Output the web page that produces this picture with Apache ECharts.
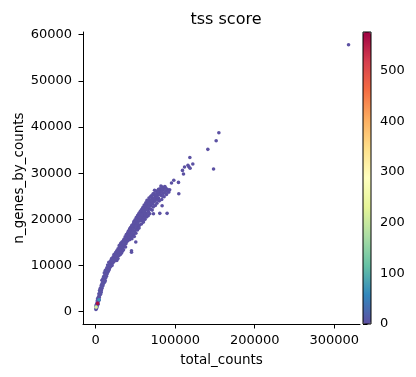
<!DOCTYPE html>
<html>
<head>
<meta charset="utf-8">
<script src="https://cdn.jsdelivr.net/npm/echarts@6/dist/echarts.min.js"></script>
<style>
  html, body { margin: 0; padding: 0; background: #fff; }
  #chart { width: 416px; height: 377px; }
</style>
</head>
<body>
<div id="chart"></div>
<script>
// [total_counts, n_genes_by_counts, tss score]
var cells = [
  [300,500,4],[600,800,6],[900,700,3],[1200,1100,8],[800,1300,5],[1500,1000,7],[400,1200,9],[1800,1400,4],
  [1500,1800,6],[2200,1700,3],[2800,2100,8],[2000,2400,5],[3300,2300,2],[3800,2700,6],[2600,2900,4],[4200,2500,7],[3000,1600,9],
  [3500,3200,5],[4500,3100,3],[5200,3600,6],[4000,3900,4],[6000,3800,8],[5500,4300,2],[6800,4200,5],[4800,4600,7],[7200,4700,3],[6200,4900,6],
  [6500,5200,4],[7800,5100,2],[8500,5500,6],[7000,5700,3],[9200,5800,5],[8000,6100,7],[10000,6200,4],[9000,6500,2],[11000,6400,6],[7800,6800,3],[10500,6900,5],[12000,6700,4],
  [9000,7100,3],[11000,7200,5],[12500,7300,2],[10000,7600,6],[13500,7700,4],[11500,7900,3],[14000,8100,5],[12500,8300,2],[10800,8400,4],[15000,8500,6],[13500,8700,3],[16000,8800,2],[12000,8900,5],
  [13000,9100,4],[15000,9200,2],[17000,9300,5],[14000,9500,3],[18000,9600,2],[16000,9800,4],[19000,9900,3],[15000,10100,5],[17500,10200,2],[20000,10300,4],[18500,10500,3],[16500,10700,2],[21500,10600,4],[19500,10900,3],[22500,10800,2],
  [19000,11100,3],[21000,11200,2],[24000,11300,4],[26500,11100,2],[20000,11500,3],[23000,11600,2],[25500,11700,4],[28000,11500,3],[22000,11900,2],[24500,12100,3],[27000,12000,2],[29500,12200,4],[23000,12400,3],[26000,12500,2],[28500,12600,3],[31000,12400,2],[25000,12800,4],[30000,12900,2],[27500,13000,3],
  [26500,13200,2],[29000,13300,3],[32000,13200,2],[34000,13500,3],[28000,13600,2],[31000,13700,4],[33500,13900,2],[30000,14000,3],[35500,14100,2],[29500,14300,3],[32500,14400,2],[36000,14500,3],[34000,14700,2],[31500,14800,3],[38000,14700,2],[36500,15000,3],[33000,15100,2],
  [34500,15300,2],[37000,15400,3],[40000,15300,2],[42500,15600,2],[35500,15700,3],[39000,15800,2],[41500,16000,2],[44000,16100,3],[37000,16200,2],[40500,16400,2],[43000,16500,3],[46000,16400,2],[38500,16700,2],[42000,16800,3],[45000,16900,2],[47500,16700,2],[40000,17000,3],[44000,17200,2],
  [41000,17400,2],[43500,17500,3],[46500,17600,2],[49000,17400,2],[42500,17800,3],[45500,18000,2],[48000,18100,2],[51000,17900,3],[44000,18300,2],[47000,18400,2],[50000,18500,3],[53000,18300,2],[45500,18700,2],[49000,18800,3],[52000,18900,2],[55000,18700,2],[47500,19100,3],[51000,19200,2],
  [48000,19500,2],[50500,19600,3],[53500,19500,2],[56500,19700,2],[60000,19400,3],[49500,19900,2],[52500,20000,2],[55500,20100,3],[58500,20200,2],[62000,20000,2],[51000,20400,3],[54000,20500,2],[57000,20600,2],[60000,20700,3],[64000,20500,2],[53000,20900,2],[56000,21000,3],[59000,21100,2],[66000,20800,2],
  [54500,21300,2],[57500,21400,3],[60500,21500,2],[63500,21300,2],[68000,21200,3],[56000,21700,2],[59000,21800,2],[62000,21900,3],[65500,22000,2],[58000,22200,2],[61000,22300,3],[64000,22400,2],[67500,22300,2],[71000,22000,3],[59500,22600,2],[63000,22700,2],[66000,22800,3],[69500,22900,2],
  [61000,23100,2],[64500,23200,3],[68000,23300,2],[71500,23400,2],[75000,23000,3],[63000,23600,2],[66500,23700,2],[70000,23800,3],[73500,23900,2],[77000,23500,2],[64500,24100,3],[68000,24200,2],[72000,24300,2],[76000,24400,3],[80000,24000,2],[67000,24600,2],[71000,24700,3],[75000,24800,2],[79000,24600,2],[83000,24300,3],
  [70000,25100,2],[74000,25200,3],[78000,25300,2],[82000,25200,2],[86000,24900,3],[73000,25600,2],[77000,25700,2],[81000,25800,3],[85000,25600,2],[89000,25400,2],[76000,26100,3],[80000,26200,2],[84000,26300,2],[88000,26100,3],[92000,25900,2],[81000,26600,2],[86000,26700,3],[90000,26500,2],[84000,27000,2],
  // second pass, filling the gaps in the dense band
  [1000,1600,5],[2400,2200,4],[3200,2600,6],[4400,3500,3],[5800,4000,5],[6400,4500,4],[5600,5000,3],[7400,5400,5],[8800,6000,4],[9800,6800,3],
  [11800,7500,4],[13000,8000,3],[14500,8900,5],[16800,9100,3],[17800,10000,4],[20500,10000,2],[21000,10900,3],[23500,11000,2],[22000,11300,4],[25000,11400,3],
  [26000,12000,2],[28000,12300,3],[29000,12800,2],[32500,12700,3],[33500,13100,2],[30500,13400,2],[35000,13400,3],[32000,14100,2],[37500,14000,2],[35000,14900,3],
  [38500,15100,2],[36000,15500,2],[41000,15700,3],[43500,15800,2],[38000,16000,2],[45500,15800,3],[42000,16200,2],[39500,16500,2],[44500,16700,3],[48500,16300,2],
  [41500,17200,2],[46000,17100,3],[50500,17000,2],[43000,18000,2],[47000,17900,3],[52500,17700,2],[46000,18600,2],[51000,18600,3],[54500,18100,2],[48500,19300,2],
  [53000,19100,3],[57500,19000,2],[51500,19800,2],[55000,19800,3],[59000,19800,2],[52500,20700,2],[56000,20400,3],[61500,20400,2],[55000,21200,2],[58000,21000,3],
  [62500,20900,2],[57000,21900,2],[61000,21800,3],[66500,21600,2],[60000,22500,2],[64000,22100,3],[69000,22200,2],[62000,23000,2],[66500,22800,3],[72500,22700,2],
  [63500,23400,2],[67500,23500,3],[72000,23600,2],[65500,24000,2],[70000,24100,3],[74500,24000,2],[78000,24200,2],[69000,24900,3],[73000,24500,2],[77000,24900,2],
  [72000,25500,3],[76000,25300,2],[80000,25500,2],[84000,25000,3],[78000,26000,2],[83000,25900,2],[87000,25900,3],[79000,26500,2],[83500,26500,2],[88000,26800,3],
  [91000,26000,2],[87000,27100,2],[82000,27200,3],[93000,26400,2],[74000,26300,2],
  // scattered cells outside the band
  [45000,13200,3],[50400,15100,2],[45000,12860,2],[80600,21300,3],[72600,21200,2],[83500,22950,2],[89800,21300,3],[104500,25550,2],
  [95300,27860,2],[98200,28450,3],[104100,28000,2],[110400,29800,2],[109100,30600,3],[111700,31330,2],[117100,31400,2],[118700,31050,3],
  [116000,31700,2],[122100,31980,2],[118400,33400,3],[148200,30900,2],[141000,35150,2],[151500,37000,3],[154900,38750,2],[318000,57800,2],
  [4200,2600,70],[500,1000,215],[2400,1800,565]
];
var xTicks = [0, 100000, 200000, 300000];
var yTicks = [0, 10000, 20000, 30000, 40000, 50000, 60000];
var cbarTicks = [0, 100, 200, 300, 400, 500];
var spectralR = ['#5e4fa2','#3288bd','#66c2a5','#abdda4','#e6f598','#ffffbf','#fee08b','#fdae61','#f46d43','#d53e4f','#9e0142'];

var chart = echarts.init(document.getElementById('chart'), null, { renderer: 'canvas' });
var font = 'DejaVu Sans';
var plain = function (v) { return String(v); };
var axisCommon = {
  axisLine: { show: true, onZero: false, lineStyle: { color: '#000', width: 1 } },
  axisTick: { show: true, length: 4.5, lineStyle: { color: '#000', width: 1 } },
  splitLine: { show: false },
  axisLabel: { color: '#000', fontFamily: font, fontSize: 13, formatter: plain }
};

var option = {
  animation: false,
  backgroundColor: '#fff',
  title: {
    text: 'tss score',
    left: 221, top: 7, textAlign: 'center',
    textStyle: { fontFamily: font, fontSize: 16, fontWeight: 'normal', color: '#000' }
  },
  grid: [
    { left: 83, top: 32, width: 277, height: 292, outerBoundsMode: 'none', containLabel: false },
    { left: 363, top: 32, width: 8, height: 292, outerBoundsMode: 'none', containLabel: false,
      show: true, borderColor: '#000', borderWidth: 1, z: 10 }
  ],
  xAxis: [
    Object.assign({}, axisCommon, {
      type: 'value', gridIndex: 0, min: -16000, max: 332400,
      name: 'total_counts', nameLocation: 'middle', nameGap: 29, nameMoveOverlap: false,
      nameTextStyle: { fontFamily: font, fontSize: 13.5, color: '#000' },
      axisLabel: Object.assign({}, axisCommon.axisLabel, { margin: 10, customValues: xTicks }),
      axisTick: Object.assign({}, axisCommon.axisTick, { customValues: xTicks })
    }),
    { type: 'value', gridIndex: 1, show: false, min: 0, max: 1 }
  ],
  yAxis: [
    Object.assign({}, axisCommon, {
      type: 'value', gridIndex: 0, min: -2660, max: 60560,
      name: 'n_genes_by_counts', nameLocation: 'middle', nameGap: 57, nameMoveOverlap: false,
      nameTextStyle: { fontFamily: font, fontSize: 13.5, color: '#000' },
      axisLabel: Object.assign({}, axisCommon.axisLabel, { margin: 11, customValues: yTicks }),
      axisTick: Object.assign({}, axisCommon.axisTick, { customValues: yTicks })
    }),
    Object.assign({}, axisCommon, {
      type: 'value', gridIndex: 1, position: 'right', min: 0, max: 576,
      axisLine: { show: false },
      axisLabel: Object.assign({}, axisCommon.axisLabel, { margin: 9, customValues: cbarTicks }),
      axisTick: Object.assign({}, axisCommon.axisTick, { customValues: cbarTicks })
    })
  ],
  visualMap: {
    type: 'continuous', min: 0, max: 576, dimension: 2, seriesIndex: 0,
    calculable: false, orient: 'vertical', left: 363, top: 32, padding: 0,
    itemWidth: 8, itemHeight: 292, showLabel: false, text: null, z: 2,
    inRange: { color: spectralR }
  },
  series: [{
    type: 'scatter', xAxisIndex: 0, yAxisIndex: 0,
    symbolSize: 3.6, data: cells,
    itemStyle: { opacity: 1 }
  }]
};
chart.setOption(option);
</script>
</body>
</html>
